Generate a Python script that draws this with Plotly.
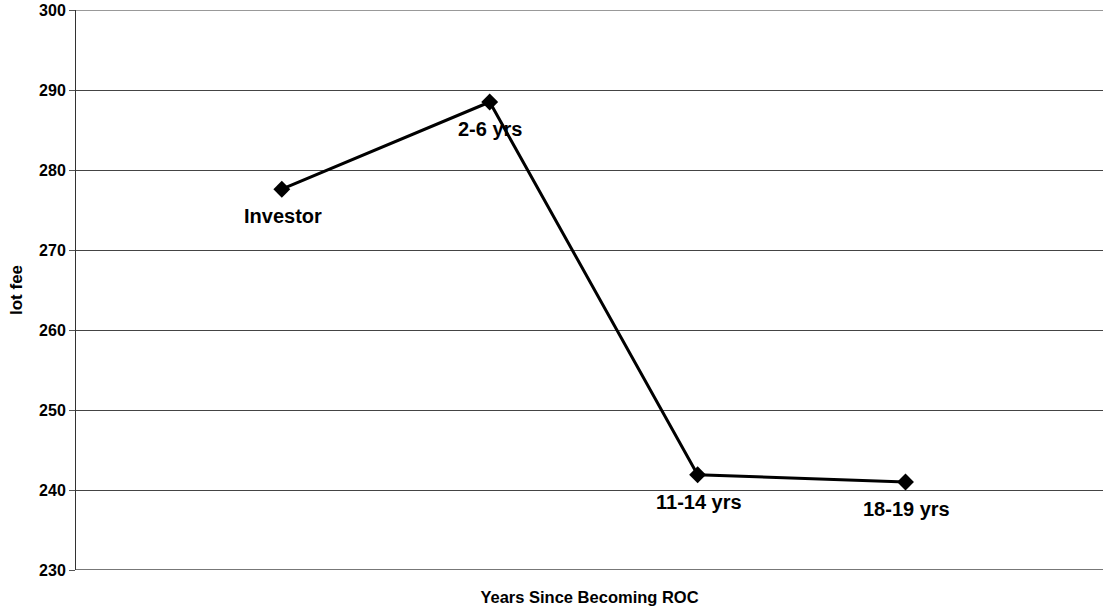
import plotly.graph_objects as go

categories = ["Investor", "2-6 yrs", "11-14 yrs", "18-19 yrs"]
positions = [1, 2, 3, 4]
lot_fee = [277.6, 288.5, 241.9, 241.0]
y_ticks = [230, 240, 250, 260, 270, 280, 290, 300]

fig = go.Figure()
fig.add_trace(go.Scatter(
    x=positions, y=lot_fee, mode="lines+markers",
    line=dict(color="black", width=3),
    marker=dict(symbol="diamond", size=13, color="black"),
    hoverinfo="skip", showlegend=False,
))

for xp, yv, name in zip(positions, lot_fee, categories):
    fig.add_annotation(x=xp, y=yv, text="<b>%s</b>" % name, showarrow=False,
                       yshift=-27, xshift=1,
                       font=dict(family="Liberation Sans, Arial", size=20, color="black"))

fig.update_layout(
    width=1103, height=613,
    margin=dict(l=76, r=0, t=10, b=43, autoexpand=False),
    paper_bgcolor="white", plot_bgcolor="white",
    font=dict(family="Liberation Sans, Arial", color="black"),
    xaxis=dict(range=[0.01, 4.95], showticklabels=False, showgrid=False,
               zeroline=False, showline=False, ticks="", automargin=False,
               title=dict(text="<b>Years Since Becoming ROC</b>", standoff=21,
                          font=dict(size=16.5))),
    yaxis=dict(range=[230, 300], tickvals=y_ticks, automargin=False,
               ticktext=["<b>%d</b>" % v for v in y_ticks],
               tickfont=dict(size=16), showgrid=True, gridcolor="#444444",
               gridwidth=1, zeroline=False, showline=True, linecolor="#333333",
               linewidth=1, ticks="outside", ticklen=6, tickcolor="#555555",
               ticklabeloverflow="allow",
               title=dict(text="<b>lot fee</b>", standoff=12, font=dict(size=17))),
)
fig.add_shape(type="line", xref="paper", yref="y", x0=0, x1=1, y0=230, y1=230,
              line=dict(color="#777777", width=2))
fig.add_shape(type="line", xref="paper", yref="y", x0=0, x1=1, y0=300, y1=300,
              line=dict(color="#999999", width=2))

fig.write_html("out.html", config={"displayModeBar": False},
               post_script="document.body.style.margin='0';")
